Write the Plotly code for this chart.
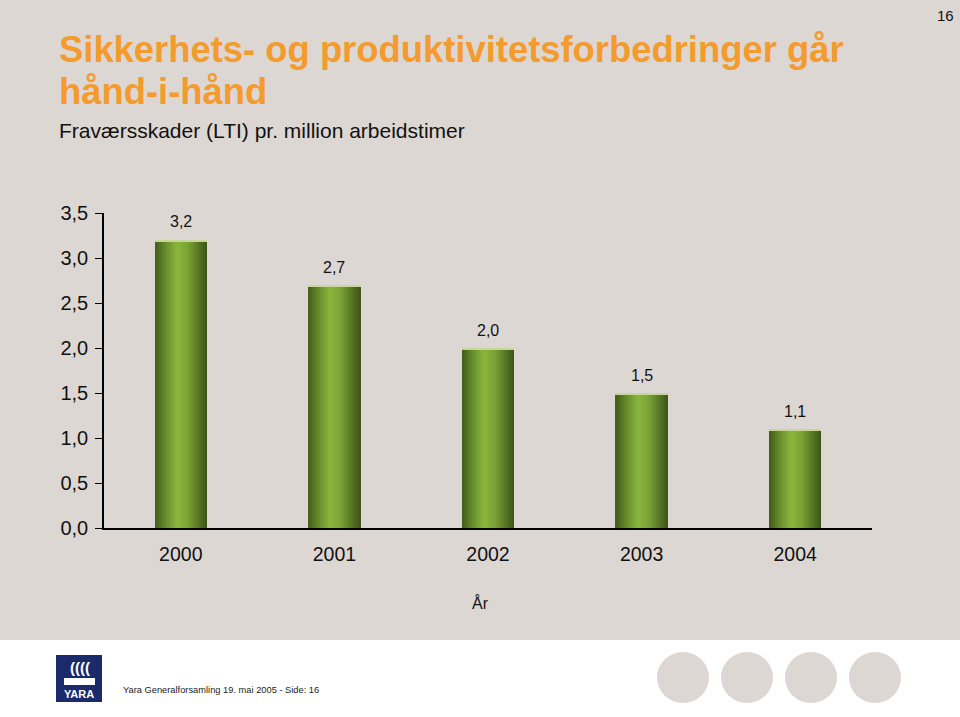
import plotly.graph_objects as go

# ---- data ----
years = ["2000", "2001", "2002", "2003", "2004"]
lti = [3.2, 2.7, 2.0, 1.5, 1.1]
y_ticks = [0.0, 0.5, 1.0, 1.5, 2.0, 2.5, 3.0, 3.5]

title_line1 = "Sikkerhets- og produktivitetsforbedringer går"
title_line2 = "hånd-i-hånd"
subtitle = "Fraværsskader (LTI) pr. million arbeidstimer"
x_title = "År"
footer = "Yara Generalforsamling 19. mai 2005 - Side: 16"
page_no = "16"

# ---- style ----
BG = "#ddd7d3"
ORANGE = "#f39b2c"
FONT = "Liberation Sans, Arial, sans-serif"
bar_width = 0.34
grad_stops = [(0.0, (0x42, 0x5c, 0x1b)), (0.18, (0x62, 0x87, 0x29)), (0.42, (0x8a, 0xb6, 0x3c)),
              (0.62, (0x7c, 0xa4, 0x35)), (0.82, (0x58, 0x7a, 0x24)), (1.0, (0x3c, 0x53, 0x17))]
N_STRIPS = 26


def grad_color(t):
    for (t0, c0), (t1, c1) in zip(grad_stops[:-1], grad_stops[1:]):
        if t0 <= t <= t1:
            f = (t - t0) / (t1 - t0)
            r, g, b = [round(a + (b_ - a) * f) for a, b_ in zip(c0, c1)]
            return f"rgb({r},{g},{b})"
    return "rgb(60,83,23)"


xpos = list(range(len(years)))

fig = go.Figure()

sw = bar_width / N_STRIPS
for i in range(N_STRIPS):
    c = grad_color((i + 0.5) / N_STRIPS)
    w = sw * (1.0 if i == N_STRIPS - 1 else 1.3)
    fig.add_trace(go.Bar(
        x=xpos, y=lti,
        width=[w] * len(years),
        offset=[-bar_width / 2 + i * sw] * len(years),
        marker=dict(color=c, line=dict(width=0)),
        hoverinfo="skip", showlegend=False,
    ))

# top cap highlight
fig.add_trace(go.Bar(
    x=xpos, y=[0.022] * len(years), base=[v - 0.022 for v in lti],
    width=[bar_width] * len(years),
    marker=dict(color="#c9d69a", line=dict(width=0)),
    hoverinfo="skip", showlegend=False,
))

annotations = []
for xi, v in zip(xpos, lti):
    annotations.append(dict(
        x=xi, y=v, xref="x", yref="y", text=f"{v:.1f}".replace(".", ","),
        showarrow=False, yanchor="middle", yshift=18,
        font=dict(family=FONT, size=16, color="#111111"),
    ))

annotations += [
    dict(x=57 / 960, y=1 - 50 / 717, xref="paper", yref="paper", xanchor="left", yanchor="middle",
         text=f"<b>{title_line1}</b>", showarrow=False, font=dict(family=FONT, size=36.4, color=ORANGE)),
    dict(x=57 / 960, y=1 - 91 / 717, xref="paper", yref="paper", xanchor="left", yanchor="middle",
         text=f"<b>{title_line2}</b>", showarrow=False, font=dict(family=FONT, size=36.4, color=ORANGE)),
    dict(x=57 / 960, y=1 - 131 / 717, xref="paper", yref="paper", xanchor="left", yanchor="middle",
         text=subtitle, showarrow=False, font=dict(family=FONT, size=21, color="#111111")),
    dict(x=956 / 960, y=1 - 16 / 717, xref="paper", yref="paper", xanchor="right", yanchor="middle",
         text=page_no, showarrow=False, font=dict(family=FONT, size=15, color="#111111")),
    dict(x=480 / 960, y=1 - 603 / 717, xref="paper", yref="paper", xanchor="center", yanchor="middle",
         text=x_title, showarrow=False, font=dict(family=FONT, size=16, color="#111111")),
    dict(x=121 / 960, y=1 - 690 / 717, xref="paper", yref="paper", xanchor="left", yanchor="middle",
         text=footer, showarrow=False, font=dict(family=FONT, size=9.3, color="#222222")),
    dict(x=79 / 960, y=1 - 694 / 717, xref="paper", yref="paper", xanchor="center", yanchor="middle",
         text="<b>YARA</b>", showarrow=False, font=dict(family=FONT, size=11, color="white")),
    dict(x=80 / 960, y=1 - 667 / 717, xref="paper", yref="paper", xanchor="center", yanchor="middle",
         text="<b>((((</b>", showarrow=False, font=dict(family=FONT, size=15, color="white")),
]

shapes = [
    dict(type="rect", xref="paper", yref="paper", x0=0, x1=1, y0=1 - 640 / 717, y1=1,
         fillcolor=BG, line=dict(width=0), layer="below"),
    dict(type="rect", xref="paper", yref="paper", x0=56 / 960, x1=102 / 960,
         y0=1 - 702 / 717, y1=1 - 655 / 717, fillcolor="#1b2a6b", line=dict(width=0)),
    dict(type="rect", xref="paper", yref="paper", x0=64 / 960, x1=95 / 960,
         y0=1 - 685 / 717, y1=1 - 678 / 717, fillcolor="white", line=dict(width=0)),
]
for cx in [683, 747, 811, 875]:
    shapes.append(dict(type="circle", xref="paper", yref="paper",
                       x0=(cx - 26) / 960, x1=(cx + 26) / 960,
                       y0=1 - 703 / 717, y1=1 - 652 / 717,
                       fillcolor="#dcd7d3", line=dict(width=0)))

fig.update_layout(
    width=960, height=717,
    margin=dict(l=0, r=0, t=0, b=0, autoexpand=False),
    paper_bgcolor="white", plot_bgcolor="rgba(0,0,0,0)",
    barmode="overlay", bargap=0,
    separators=", ",
    showlegend=False,
    annotations=annotations, shapes=shapes,
    xaxis=dict(
        domain=[104 / 960, 872 / 960],
        range=[-0.5, len(years) - 0.5],
        tickvals=xpos, ticktext=years,
        showline=True, linecolor="#000000", linewidth=1.5,
        ticks="", showgrid=False, zeroline=False,
        tickfont=dict(family=FONT, size=19.5, color="#111111"),
        ticklabelstandoff=8,
        automargin=False,
    ),
    yaxis=dict(
        domain=[1 - 528 / 717, 1 - 213 / 717],
        range=[0, 3.5],
        tickvals=y_ticks, tickformat=".1f",
        showline=True, linecolor="#000000", linewidth=1.5,
        ticks="outside", ticklen=7, tickwidth=1.2, tickcolor="#000000",
        showgrid=False, zeroline=False,
        automargin=False,
        tickfont=dict(family=FONT, size=20, color="#111111"),
        ticklabelstandoff=3,
    ),
)

fig.write_html("out.html", config={"displayModeBar": False},
               post_script="document.body.style.margin='0';document.body.style.padding='0';")
